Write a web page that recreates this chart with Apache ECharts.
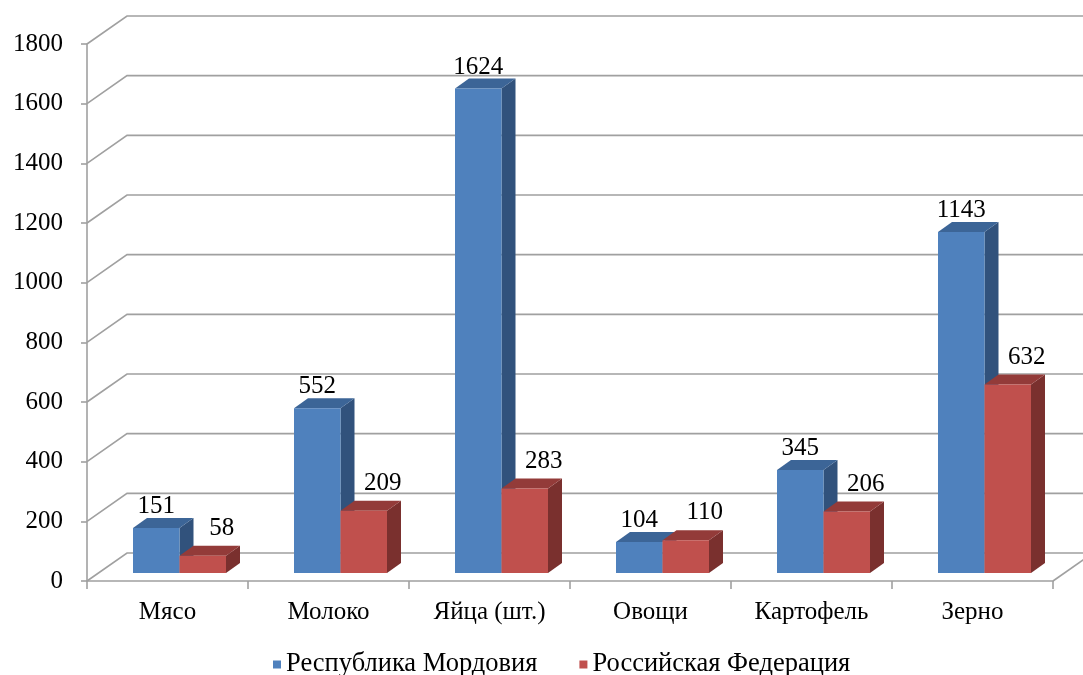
<!DOCTYPE html>
<html>
<head>
<meta charset="utf-8">
<script src="https://cdn.jsdelivr.net/npm/echarts@6/dist/echarts.min.js"></script>
<style>
  html, body { margin: 0; padding: 0; background: #fff; }
  #main { width: 1083px; height: 675px; }
</style>
</head>
<body>
<div id="main"></div>
<script>
var categories = ["Мясо", "Молоко", "Яйца (шт.)", "Овощи", "Картофель", "Зерно"];
var mordovia = [151, 552, 1624, 104, 345, 1143];
var russia = [58, 209, 283, 110, 206, 632];
var seriesNames = ["Республика Мордовия", "Российская Федерация"];
var yTicks = [0, 200, 400, 600, 800, 1000, 1200, 1400, 1600, 1800];

var FONT = "Liberation Serif";
var FS = 25;
// oblique depth of the walls and of the bars
var WALL_DX = 40, WALL_DY = -28;
var BAR_SHIFT_X = 12, BAR_SHIFT_Y = -8;
var BAR_W = 46.5, BAR_DX = 14, BAR_DY = -10;

var palettes = [
  { front: "#4F81BD", top: "#3C6597", side: "#31527C" },
  { front: "#C0504D", top: "#933B39", side: "#7A302E" }
];

var chartDom = document.getElementById("main");
var myChart = echarts.init(chartDom);

function wallItem(params, api) {
  var cs = params.coordSys;
  var y = api.coord([0, api.value(0)])[1];
  var x0 = cs.x, x1 = cs.x + cs.width;
  var children = [{
    type: "polyline",
    shape: { points: [[x0, y], [x0 + WALL_DX, y + WALL_DY], [x1 + WALL_DX + 20, y + WALL_DY]] },
    style: { stroke: "#A0A0A0", lineWidth: 1.6, fill: null }
  }];
  if (params.dataIndex === 0) {
    children.push({
      type: "line",
      shape: { x1: x1, y1: y, x2: x1 + WALL_DX, y2: y + WALL_DY },
      style: { stroke: "#A0A0A0", lineWidth: 1.6 }
    });
  }
  return { type: "group", children: children };
}

function barRenderer(k) {
  var pal = palettes[k];
  return function (params, api) {
    var idx = api.value(0);
    var v = api.value(1);
    var c = api.coord([idx, v]);
    var base = api.coord([idx, 0]);
    var left = c[0] + BAR_SHIFT_X - BAR_W + k * BAR_W;
    var right = left + BAR_W;
    var top = c[1] + BAR_SHIFT_Y;
    var bottom = base[1] + BAR_SHIFT_Y;
    var labelX = (left + right) / 2 + (k === 1 ? 19 : 0);
    var labelY = top + BAR_DY + 1 - (k === 1 ? 6 : 0);
    return {
      type: "group",
      children: [
        {
          type: "polygon",
          shape: { points: [[right, top], [right + BAR_DX, top + BAR_DY], [right + BAR_DX, bottom + BAR_DY], [right, bottom]] },
          style: { fill: pal.side }
        },
        {
          type: "polygon",
          shape: { points: [[left, top], [left + BAR_DX, top + BAR_DY], [right + BAR_DX, top + BAR_DY], [right, top]] },
          style: { fill: pal.top }
        },
        {
          type: "rect",
          shape: { x: left, y: top, width: BAR_W, height: bottom - top },
          style: { fill: pal.front }
        },
        {
          type: "text",
          style: {
            text: String(v), x: labelX, y: labelY,
            align: "center", verticalAlign: "bottom",
            font: FS + "px " + FONT, fill: "#000"
          }
        }
      ]
    };
  };
}

function toPairs(arr) {
  return arr.map(function (v, i) { return [i, v]; });
}

var option = {
  animation: false,
  backgroundColor: "#fff",
  grid: { left: 87, right: 30, top: 44, bottom: 94 },
  legend: {
    left: 268, top: 646,
    itemWidth: 8, itemHeight: 8, itemGap: 42,
    icon: "rect",
    textStyle: { fontFamily: FONT, fontSize: 26.5, color: "#000" },
    data: seriesNames
  },
  xAxis: {
    type: "category",
    data: categories,
    axisLine: { lineStyle: { color: "#A0A0A0", width: 1.6 } },
    axisTick: { show: true, length: 8, lineStyle: { color: "#A0A0A0", width: 1.6 } },
    axisLabel: { fontFamily: FONT, fontSize: FS, color: "#000", margin: 19 },
    splitLine: { show: false }
  },
  yAxis: {
    type: "value",
    min: 0, max: 1800, interval: 200,
    axisLine: { show: true, lineStyle: { color: "#A0A0A0", width: 1.6 } },
    axisTick: { show: true, length: 6, lineStyle: { color: "#A0A0A0", width: 1.6 } },
    axisLabel: { fontFamily: FONT, fontSize: FS, color: "#000", margin: 24, formatter: function (v) { return String(v); } },
    splitLine: { show: false }
  },
  series: [
    {
      type: "custom",
      name: "walls",
      silent: true,
      z: 1,
      renderItem: wallItem,
      encode: { y: 0 },
      data: yTicks.map(function (t) { return [t]; })
    },
    {
      type: "custom",
      name: seriesNames[0],
      z: 2,
      itemStyle: { color: palettes[0].front },
      renderItem: barRenderer(0),
      encode: { x: 0, y: 1 },
      data: toPairs(mordovia)
    },
    {
      type: "custom",
      name: seriesNames[1],
      z: 3,
      itemStyle: { color: palettes[1].front },
      renderItem: barRenderer(1),
      encode: { x: 0, y: 1 },
      data: toPairs(russia)
    }
  ]
};

option && myChart.setOption(option);
</script>
</body>
</html>
